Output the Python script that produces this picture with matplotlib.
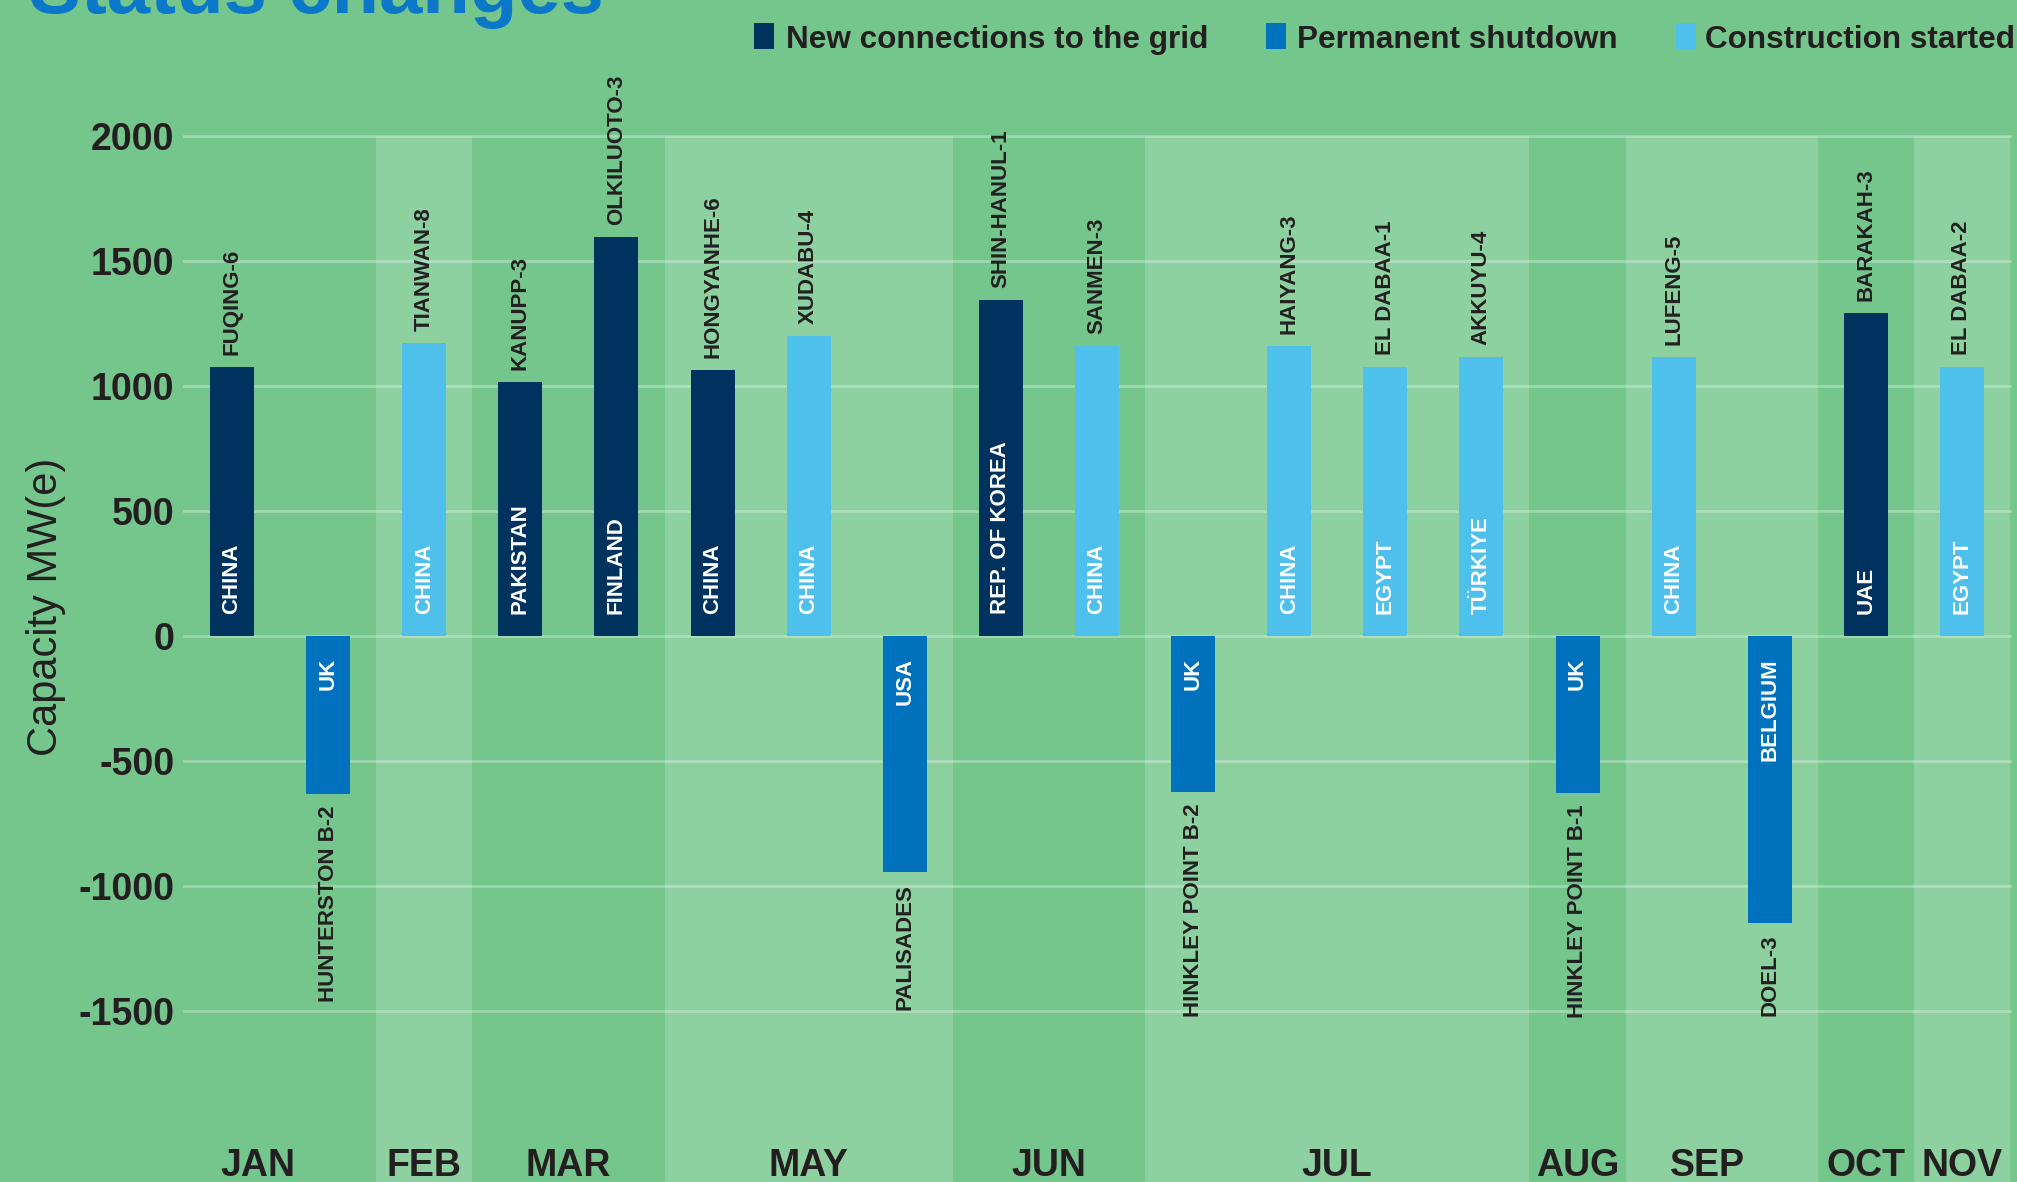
import matplotlib.pyplot as plt
from matplotlib.patches import Rectangle

plt.rcParams['font.family'] = ['Liberation Sans', 'DejaVu Sans']

# one entry per reactor, left to right
units = ['FUQING-6', 'HUNTERSTON B-2', 'TIANWAN-8', 'KANUPP-3', 'OLKILUOTO-3',
         'HONGYANHE-6', 'XUDABU-4', 'PALISADES', 'SHIN-HANUL-1', 'SANMEN-3',
         'HINKLEY POINT B-2', 'HAIYANG-3', 'EL DABAA-1', 'AKKUYU-4',
         'HINKLEY POINT B-1', 'LUFENG-5', 'DOEL-3', 'BARAKAH-3', 'EL DABAA-2']
countries = ['CHINA', 'UK', 'CHINA', 'PAKISTAN', 'FINLAND',
             'CHINA', 'CHINA', 'USA', 'REP. OF KOREA', 'CHINA',
             'UK', 'CHINA', 'EGYPT', 'TÜRKIYE',
             'UK', 'CHINA', 'BELGIUM', 'UAE', 'EGYPT']
status = ['new', 'shut', 'cons', 'new', 'new',
          'new', 'cons', 'shut', 'new', 'cons',
          'shut', 'cons', 'cons', 'cons',
          'shut', 'cons', 'shut', 'new', 'cons']
capacity = [1075, -630, 1171, 1015, 1597,
            1063, 1199, -945, 1344, 1161,
            -623, 1161, 1075, 1115,
            -627, 1115, -1147, 1294, 1075]
months = ['JAN', 'JAN', 'FEB', 'MAR', 'MAR',
          'MAY', 'MAY', 'MAY', 'JUN', 'JUN',
          'JUL', 'JUL', 'JUL', 'JUL',
          'AUG', 'SEP', 'SEP', 'OCT', 'NOV']

month_order = ['JAN', 'FEB', 'MAR', 'MAY', 'JUN', 'JUL', 'AUG', 'SEP', 'OCT', 'NOV']
yticks = [2000, 1500, 1000, 500, 0, -500, -1000, -1500]

status_colors = {'new': '#00325F', 'shut': '#0071BC', 'cons': '#4FBFEC'}
status_labels = {'new': 'New connections to the grid',
                 'shut': 'Permanent shutdown',
                 'cons': 'Construction started'}

bg = '#75C68D'
band = '#8ED1A1'
ink = '#231F20'

W, H = 2017, 1182
ax_left, ax_right, ax_top = 184, 2010, 136
fig = plt.figure(figsize=(W / 100, H / 100), dpi=100, facecolor=bg)
ax = fig.add_axes([ax_left / W, 0, (ax_right - ax_left) / W, (H - ax_top) / H])
ax.set_facecolor(bg)
ax.set_xlim(-0.5, len(units) - 0.5)
ax.set_ylim(-2184, 2000)
for s in ax.spines.values():
    s.set_visible(False)
ax.set_xticks([])

# alternating month bands
x = list(range(len(units)))
for k, m in enumerate(month_order):
    idx = [i for i in x if months[i] == m]
    if k % 2 == 1:
        ax.axvspan(min(idx) - 0.5, max(idx) + 0.5, color=band, lw=0, zorder=0)
    cx = sum(idx) / len(idx)
    if m == 'JAN':
        cx -= 0.23
    elif m == 'SEP':
        cx -= 0.15
    ax.text(cx, -2160, m, ha='center', va='baseline', fontsize=27,
            fontweight='bold', color=ink)

# grid
for v in yticks:
    ax.axhline(v, color='white', alpha=0.3, lw=2, zorder=1, clip_on=False)

ax.set_yticks(yticks)
ax.set_yticklabels([str(v) for v in yticks], fontsize=27, fontweight='bold', color=ink)
ax.tick_params(axis='y', length=0, pad=7)
ax.set_ylabel('Capacity MW(e)', fontsize=30, color=ink)
ax.yaxis.set_label_coords((66 - ax_left) / (ax_right - ax_left),
                          (H - 607) / (H - ax_top))

ax.bar(x, capacity, width=0.458, color=[status_colors[s] for s in status], zorder=2)

for i in x:
    v = capacity[i]
    up = v > 0
    ax.annotate(units[i], (i, v), xytext=(0, 8.5 if up else -8.5),
                textcoords='offset points', rotation=90, ha='center',
                va='bottom' if up else 'top', fontsize=16, fontweight='bold',
                color=ink, zorder=3)
    ax.annotate(countries[i], (i, 0), xytext=(0, 16 if up else -16),
                textcoords='offset points', rotation=90, ha='center',
                va='bottom' if up else 'top', fontsize=16, fontweight='bold',
                color='white', zorder=3)

# title, cut by the top edge as in the source
fig.text(29 / W, 1 - 13 / H, 'Status changes', fontsize=56, fontweight='bold',
         color='#0A77C8', va='baseline', ha='left')

# legend
for key, mx, tx in [('new', 754, 786), ('shut', 1266, 1297), ('cons', 1676, 1705)]:
    fig.patches.append(Rectangle((mx / W, 1 - 49 / H), 20 / W, 26 / H,
                                 transform=fig.transFigure,
                                 color=status_colors[key], lw=0))
    fig.text(tx / W, 1 - 48 / H, status_labels[key], fontsize=22.7,
             fontweight='bold', color=ink, va='baseline', ha='left')

fig.savefig('out.png', dpi=100, facecolor=bg)
